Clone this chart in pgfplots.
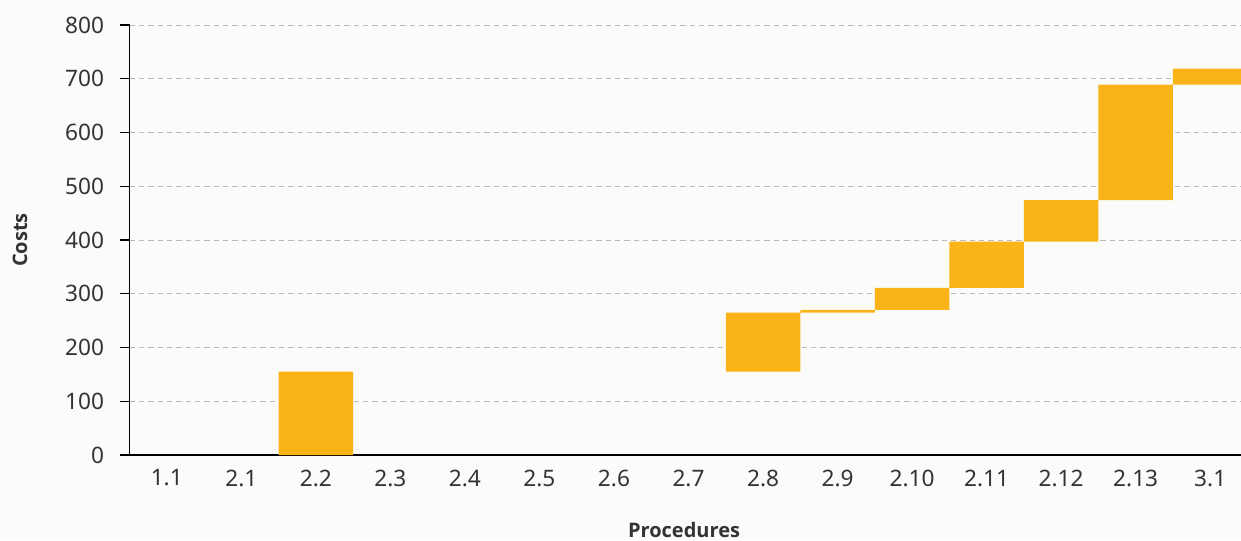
\documentclass[border=0pt]{standalone}
\usepackage{pgfplots}
\pgfplotsset{compat=1.18}
\usepackage{fontspec}
\setmainfont{Noto Sans}
\newfontfamily\labfont{Open Sans}
\definecolor{barc}{HTML}{FAB418}
\definecolor{bg}{HTML}{FBFCFA}
\definecolor{txt}{HTML}{333333}
\definecolor{gridc}{HTML}{BBBBBB}
\begin{document}
\begin{tikzpicture}
\fill[bg] (0pt,0pt) rectangle (930.75pt,405pt);
\begin{axis}[at={(97.125pt,63.75pt)}, anchor=south west, scale only axis,
  width=838.5pt, height=322.5pt,
  xmin=-0.5, xmax=14.5, ymin=0, ymax=800,
  ybar stacked, bar width=1,
  axis lines=left, axis line style={-, black, line width=0.9pt},
  xtick={0,...,14},
  xticklabels={1.1,2.1,2.2,2.3,2.4,2.5,2.6,2.7,2.8,2.9,2.10,2.11,2.12,2.13,3.1},
  ytick={0,100,...,800},
  x tick style={draw=none}, y tick style={black, line width=0.9pt},
  tick align=outside, major tick length=7.5pt,
  ymajorgrids, grid style={gridc, dash pattern=on 4pt off 3pt, line width=0.6pt},
  tick label style={font=\fontsize{17}{20}\selectfont, text=txt},
  yticklabel style={xshift=-8pt},
  /pgf/number format/assume math mode=true,
  xlabel={Procedures}, ylabel={Costs},
  xlabel style={at={(axis description cs:0.496,-0.1744)}, anchor=center, font=\labfont\bfseries\fontsize{15}{18}\selectfont, text=txt},
  ylabel style={at={(axis description cs:-0.0979,0.5)}, anchor=center, font=\labfont\bfseries\fontsize{15}{18}\selectfont, text=txt},
]
\addplot[draw=none, fill=none] table {
x y
2 0
8 155
9 265
10 270
11 311
12 397
13 474
14 689
};
\addplot[fill=barc, draw=none] table {
x y
2 155
8 110
9 5
10 41
11 86
12 77
13 215
14 30
};
\end{axis}
\pgfresetboundingbox
\path[use as bounding box] (0pt,0pt) rectangle (930.75pt,405pt);
\end{tikzpicture}
\end{document}
